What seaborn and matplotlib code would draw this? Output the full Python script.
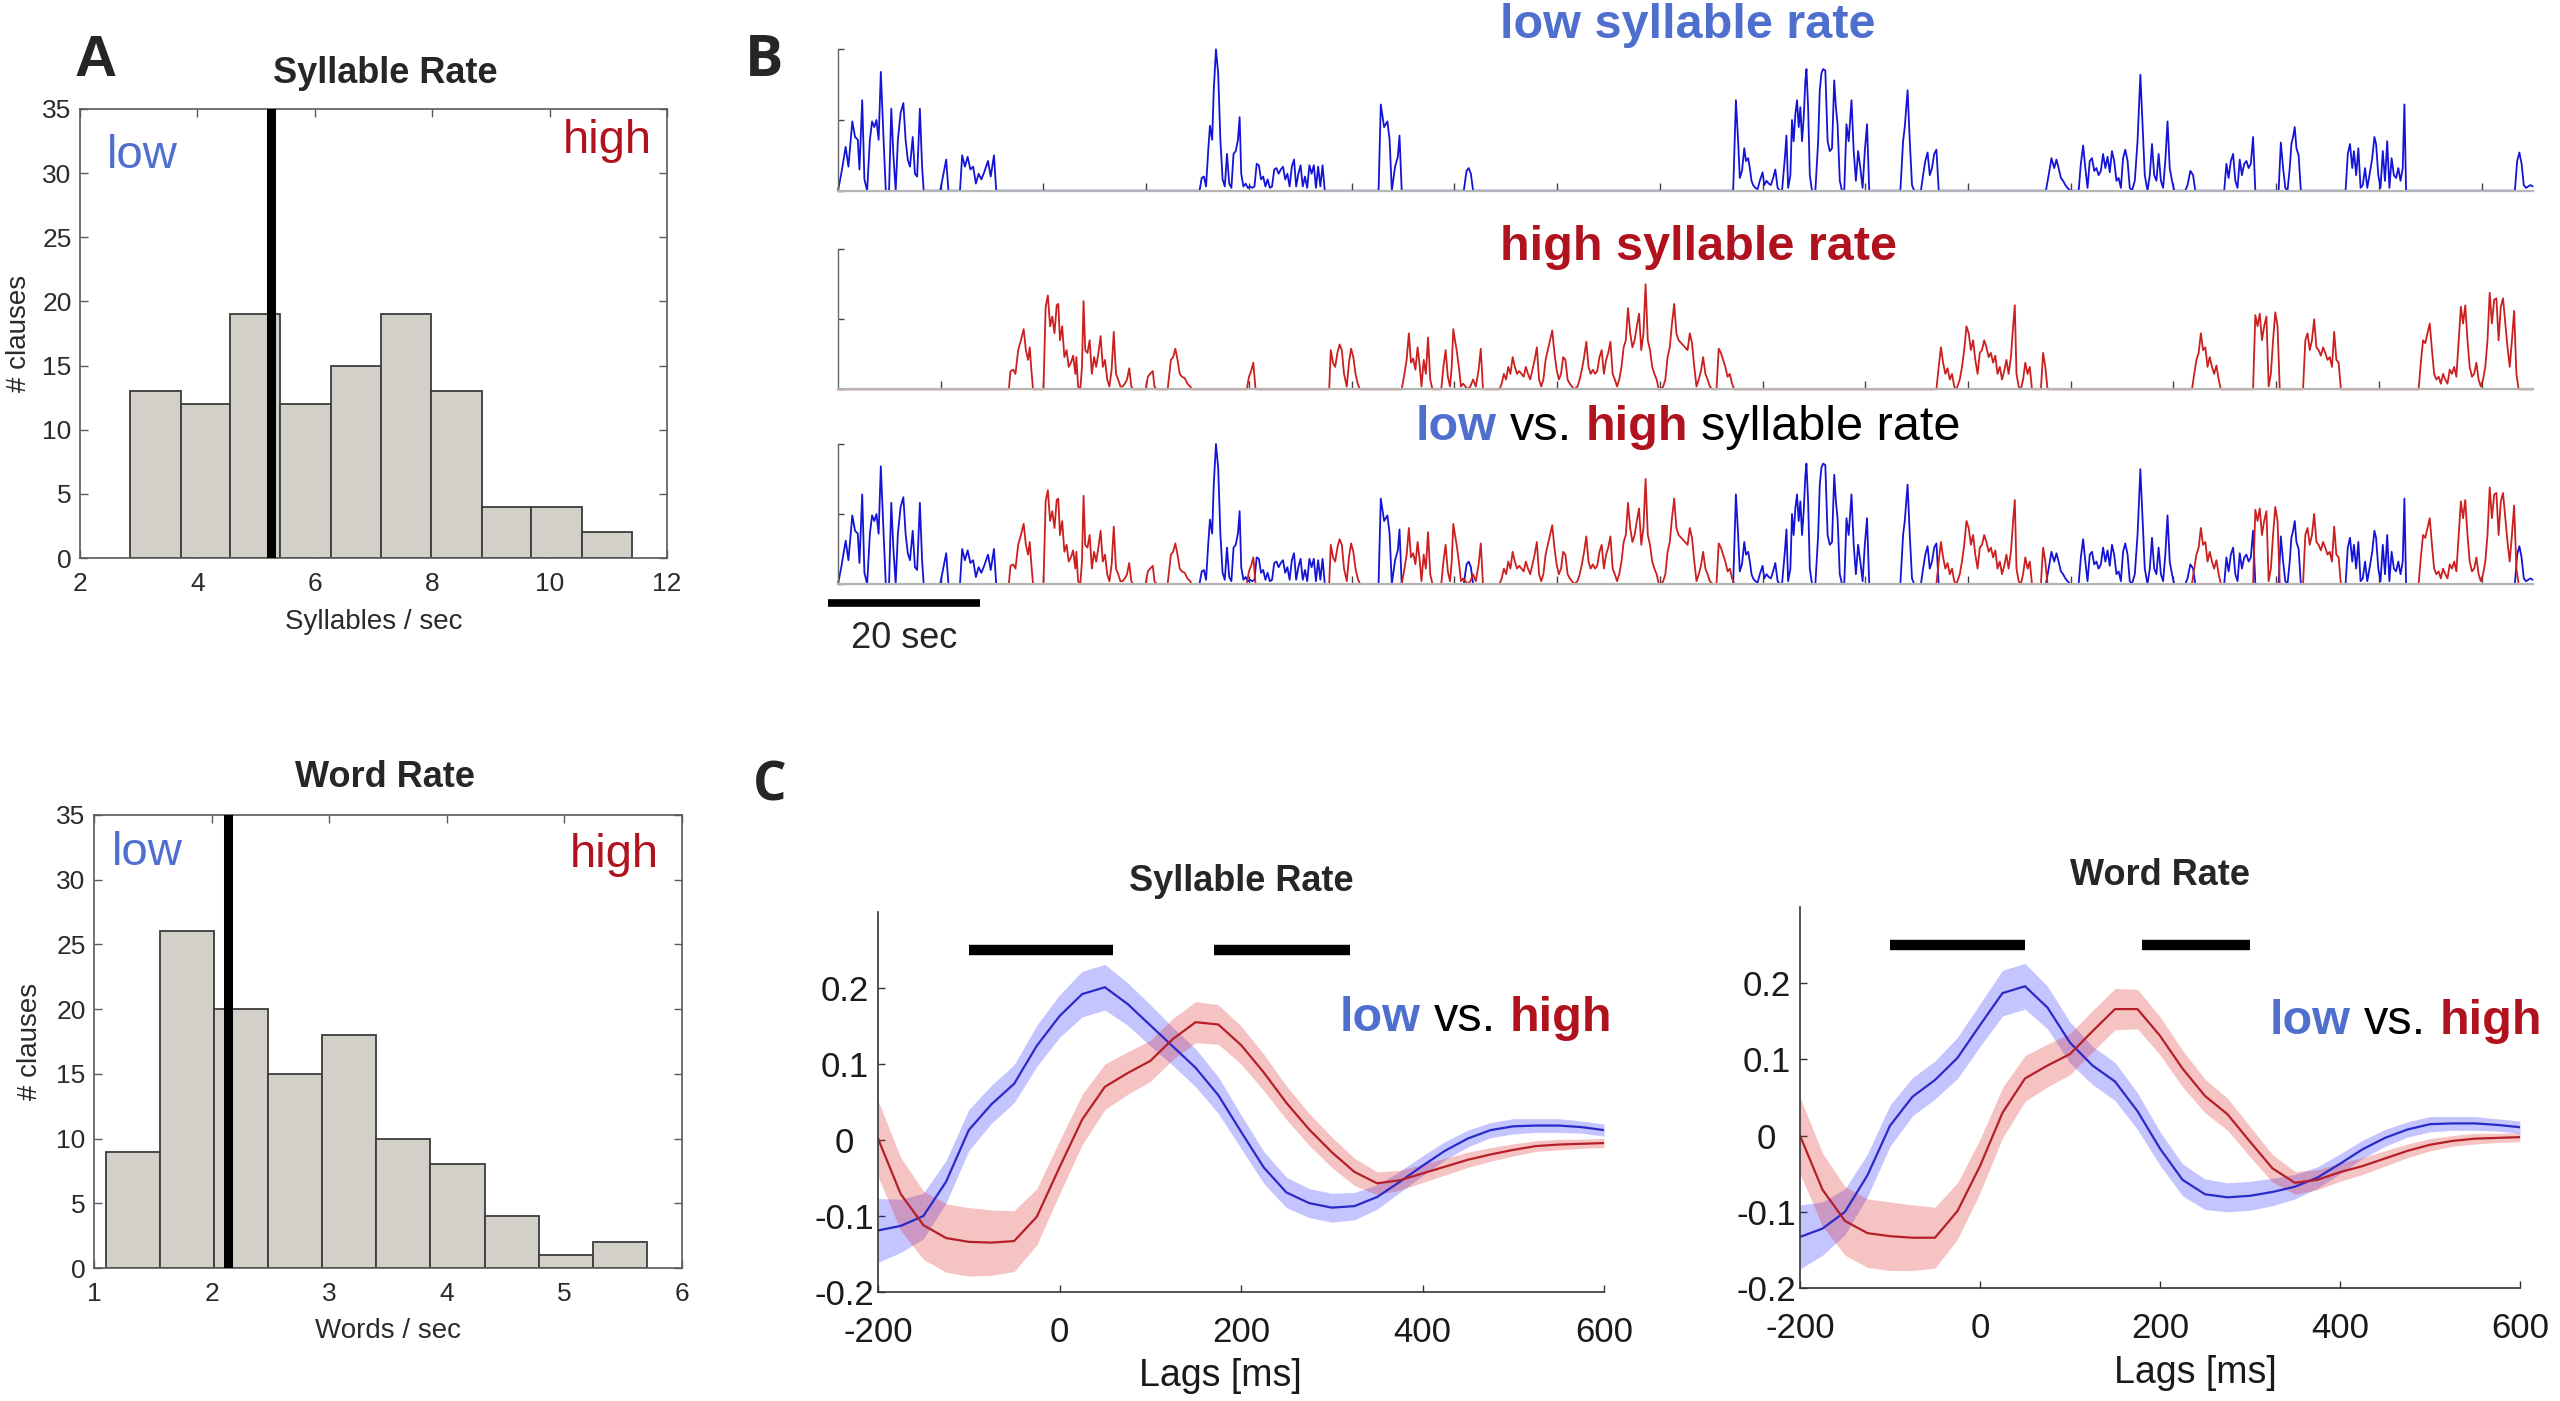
import numpy as np
import matplotlib
matplotlib.use("Agg")
import matplotlib.pyplot as plt
from matplotlib.transforms import IdentityTransform, blended_transform_factory
import seaborn as sns

# ======================= DATA =======================
# ---- Panel A : histograms of clause rates ----
syl_bin_edges = [2.85, 3.72, 4.56, 5.41, 6.27, 7.12, 7.98, 8.84, 9.69, 10.55, 11.41]
syl_counts = [13, 12, 19, 12, 15, 19, 13, 4, 4, 2]
syl_split = 5.25
word_bin_edges = [1.105, 1.562, 2.022, 2.482, 2.938, 3.399, 3.859, 4.323, 4.783, 5.239, 5.700]
word_counts = [9, 26, 20, 15, 18, 10, 8, 4, 1, 2]
word_split = 2.14

# ---- Panel B : speech envelopes (time in s, normalised amplitude) ----
low_time = [
    0, 0.43, 1.01, 1.37, 1.88, 2.24, 2.60, 2.82, 3.18, 3.47, 3.83, 4.19, 4.48, 4.77, 5.05, 5.34, 5.63, 5.99,
    6.28, 6.71, 7.00, 7.29, 7.58, 7.87, 8.23, 8.59, 8.88, 9.17, 9.46, 9.82, 10.11, 10.40, 10.76, 11.05, 11.26,
    13.43, 13.72, 14.22, 14.51,
    16.03, 16.32, 16.68, 17.04, 17.40, 17.76, 18.12, 18.48, 18.84, 19.21, 19.71, 20.07, 20.50, 20.79,
    47.51, 47.80, 48.09, 48.37, 48.66, 48.88, 49.17, 49.38, 49.67, 49.96, 50.25, 50.54, 50.83, 51.12, 51.41,
    51.70, 51.98, 52.27, 52.56, 52.78, 52.99, 53.28, 53.57, 53.86, 54.15, 54.44, 54.73, 55.02, 55.31, 55.59,
    55.88, 56.17, 56.46, 56.75, 57.04, 57.33, 57.62, 57.90, 58.19, 58.48, 58.77, 59.06, 59.35, 59.64, 59.93,
    60.21, 60.50, 60.79, 61.08, 61.37, 61.66, 61.95, 62.24, 62.53, 62.81, 63.10, 63.39, 63.68, 63.97,
    71.04, 71.33, 71.77, 72.20, 72.49, 72.78, 73.21, 73.57, 73.79, 74.08,
    82.24, 82.60, 82.89, 83.17, 83.46,
    117.64, 118.00, 118.29, 118.51, 118.80, 119.10, 119.32, 119.61, 119.83, 120.05, 120.26, 120.56, 120.85,
    121.14, 121.51, 121.72, 122.02, 122.31, 122.60, 122.89, 123.18, 123.48, 123.77, 124.06, 124.43, 124.64,
    124.86, 125.16, 125.37, 125.59, 125.81, 126.03, 126.25, 126.47, 126.69, 126.91, 127.13, 127.27, 127.49,
    127.71, 128.00, 128.44, 128.81, 129.02, 129.24, 129.46, 129.75, 130.05, 130.34, 130.63, 130.92, 131.14,
    131.36, 131.65, 131.94, 132.24, 132.53, 132.82, 133.19, 133.48, 133.77, 134.06, 134.35, 134.65, 134.94,
    135.23, 135.52,
    139.61, 139.97, 140.19, 140.56, 140.85, 141.14, 141.43, 142.31, 142.60, 142.89, 143.19, 143.48, 143.77,
    144.06, 144.35, 144.65,
    158.74, 159.10, 159.47, 159.83, 160.12, 160.41, 160.71, 161.00, 161.29, 161.58, 161.95,
    163.04, 163.33, 163.63, 163.92, 164.21, 164.50, 164.79, 165.09, 165.38, 165.67, 165.96, 166.25, 166.55,
    166.84, 167.13, 167.42, 167.71, 168.01, 168.30, 168.59, 168.88, 169.17, 169.47, 169.76, 170.05, 170.42,
    170.78, 171.15, 171.44, 171.73, 172.09, 172.39, 172.68, 172.97, 173.26, 173.55, 173.85, 174.14, 174.43,
    174.72, 175.01, 175.31, 175.60,
    177.06, 177.35, 177.72, 178.08, 178.37,
    182.17, 182.46, 182.75, 183.04, 183.34, 183.63, 183.92, 184.21, 184.50, 184.80, 185.09, 185.38, 185.67,
    185.96, 186.26,
    189.32, 189.61, 189.91, 190.20, 190.49, 190.78, 191.00, 191.22, 191.44, 191.66, 191.95, 192.24,
    198.12, 198.41, 198.70, 199.00, 199.22, 199.51, 199.80, 200.09, 200.38, 200.68, 200.97, 201.26, 201.62,
    201.91, 202.13, 202.42, 202.71, 203.01, 203.30, 203.59, 203.88, 204.17, 204.47, 204.76, 205.05, 205.34,
    205.63, 205.85, 206.07,
    220.37, 220.67, 220.96, 221.25, 221.54, 221.83, 222.13, 222.42, 222.71,
]
low_env = [
    0, 0.12, 0.31, 0.17, 0.49, 0.38, 0.36, 0.15, 0.64, 0.08, 0.0, 0.36, 0.49, 0.45, 0.50, 0.36, 0.84, 0.36,
    0.0, 0.0, 0.58, 0.24, 0.0, 0.36, 0.55, 0.62, 0.36, 0.22, 0.17, 0.38, 0.12, 0.10, 0.58, 0.17, 0,
    0, 0.08, 0.22, 0,
    0, 0.25, 0.17, 0.24, 0.15, 0.17, 0.05, 0.12, 0.08, 0.13, 0.21, 0.10, 0.25, 0,
    0, 0.09, 0.10, 0.03, 0.29, 0.46, 0.36, 0.71, 1.0, 0.83, 0.36, 0.08, 0.03, 0.26, 0.05,
    0.02, 0.26, 0.28, 0.36, 0.52, 0.12, 0.03, 0.05, 0.02, 0.03, 0.02, 0.03, 0.19, 0.18, 0.08,
    0.10, 0.03, 0.08, 0.02, 0.03, 0.15, 0.16, 0.12, 0.15, 0.17, 0.08, 0.12, 0.03, 0.17, 0.22,
    0.03, 0.12, 0.18, 0.03, 0.10, 0.02, 0.18, 0.12, 0.18, 0.02, 0.17, 0.03, 0.18, 0,
    0, 0.61, 0.45, 0.49, 0.36, 0, 0.17, 0.24, 0.39, 0,
    0, 0.14, 0.16, 0.12, 0,
    0, 0.64, 0.35, 0.09, 0.14, 0.30, 0.21, 0.23, 0.16, 0.07, 0.04, 0.02, 0.01,
    0.07, 0.13, 0.04, 0.07, 0.05, 0.04, 0.09, 0.15, 0.02, 0, 0, 0.23, 0.39,
    0.02, 0.11, 0.50, 0.35, 0.54, 0.64, 0.45, 0.59, 0.35, 0.52, 0.78, 0.86, 0.59,
    0.11, 0, 0, 0.35, 0.71, 0.83, 0.86, 0.85, 0.35, 0.28, 0.30, 0.78, 0.59,
    0.47, 0.07, 0, 0, 0.47, 0.35, 0.64, 0.28, 0.07, 0.28, 0.16, 0.02, 0.28,
    0.47, 0,
    0, 0.35, 0.45, 0.71, 0.35, 0.04, 0, 0, 0.11, 0.21, 0.27, 0.11, 0.16,
    0.26, 0.29, 0,
    0, 0.11, 0.23, 0.16, 0.22, 0.16, 0.09, 0.07, 0.04, 0.02, 0,
    0, 0.19, 0.32, 0.16, 0.02, 0.21, 0.23, 0.14, 0.16, 0.11, 0.14, 0.26, 0.16,
    0.24, 0.13, 0.28, 0.21, 0.07, 0.09, 0.02, 0.23, 0.29, 0.21, 0.02, 0, 0.07,
    0.35, 0.82, 0.47, 0.11, 0, 0.11, 0.33, 0.11, 0.07, 0.26, 0.07, 0.02, 0.21,
    0.49, 0.16, 0.07, 0,
    0, 0.04, 0.14, 0.11, 0,
    0, 0.19, 0.09, 0.21, 0.26, 0.07, 0.02, 0.22, 0.11, 0.19, 0.21, 0.16, 0.19,
    0.38, 0,
    0, 0.34, 0.16, 0.02, 0, 0.16, 0.33, 0.38, 0.45, 0.30, 0.25, 0,
    0, 0.26, 0.33, 0.16, 0.28, 0.11, 0.30, 0.02, 0.04, 0.16, 0.02, 0.11, 0.23,
    0.38, 0.33, 0.11, 0.02, 0.28, 0.07, 0.35, 0.02, 0.23, 0.11, 0.09, 0.16, 0.07,
    0.16, 0.61, 0,
    0, 0.21, 0.27, 0.19, 0.04, 0.02, 0.03, 0.04, 0.03,
]

high_time = [
    0,
    22.45, 22.67, 23.03, 23.32, 23.68, 24.04, 24.40, 24.69, 24.98, 25.20, 25.41, 25.63,
    27.00, 27.29, 27.58, 27.87, 28.16, 28.45, 28.74, 28.95, 29.17, 29.46, 29.75, 30.04, 30.32, 30.61, 30.90,
    31.19, 31.33, 31.55, 31.84, 32.06, 32.27, 32.49, 32.78, 33.07, 33.36, 33.65, 33.93, 34.22, 34.51, 34.80,
    35.09, 35.38, 35.67, 35.96, 36.24, 36.53, 36.82, 37.11, 37.40, 37.69, 37.98, 38.27, 38.55, 38.77,
    40.43, 40.72, 41.01, 41.37, 41.59, 41.88, 43.32, 43.54, 43.75, 44.04, 44.33, 44.62, 44.91, 45.20, 45.56,
    45.92, 46.28, 46.50,
    53.72, 54.01, 54.29, 54.58, 54.87,
    64.55, 64.76, 65.05, 65.34, 65.63, 65.92, 66.21, 66.50, 66.86, 67.15, 67.43, 67.72, 68.01, 68.30, 68.59,
    74.08, 74.44, 74.73, 75.02, 75.30, 75.59, 75.88, 76.17, 76.46, 76.68, 76.97, 77.25, 77.54, 77.83, 78.12,
    79.28, 79.56, 79.85, 80.14, 80.43, 80.65, 80.86, 81.08, 81.30, 81.59, 81.87, 82.16, 82.45, 82.74, 83.10,
    83.46, 83.82, 84.19, 84.47, 84.76,
    86.93, 87.22, 87.51, 87.80, 88.08, 88.37, 88.66, 88.95, 89.24, 89.53, 89.82, 90.11, 90.39, 90.68, 90.97,
    91.26, 91.55, 91.84, 92.13, 92.42, 92.70, 92.99, 93.28, 93.57, 93.86, 94.15, 94.44, 94.73, 95.02, 95.30,
    95.59, 95.88, 96.17, 96.46, 96.75, 97.18, 97.47, 97.76, 98.05, 98.34, 98.63, 98.91, 99.20, 99.49, 99.78,
    100.07, 100.36, 100.65, 100.94, 101.22, 101.51, 101.80, 102.09, 102.38, 102.67, 102.96, 103.25, 103.53,
    103.82, 104.11, 104.40, 104.69, 104.98, 105.27, 105.56, 105.85, 106.13, 106.42, 106.71, 107.00, 107.29,
    107.58, 107.87, 108.16, 108.44, 108.73, 109.02, 109.31, 109.60, 109.89, 110.18, 110.47,
    111.65, 111.94, 112.23, 112.53, 112.82, 113.11, 113.40, 113.69, 113.99, 114.28, 114.57, 114.94,
    115.45, 115.74, 116.03, 116.32, 116.61, 116.91, 117.20, 117.49, 117.78,
    144.35, 144.65, 144.94, 145.23, 145.52, 145.81, 146.11, 146.40, 146.69, 146.98, 147.42, 147.71, 148.00,
    148.30, 148.59, 148.88, 149.17, 149.46, 149.76, 150.05, 150.34, 150.63, 150.92, 151.22, 151.51, 151.80,
    152.09, 152.38, 152.68, 152.97, 153.26, 153.55, 153.84, 154.14, 154.43, 154.65, 154.87, 155.16, 155.45,
    155.74, 156.03, 156.33, 156.62, 156.91, 158.08, 158.37, 158.66, 158.95,
    177.93, 178.23, 178.52, 178.81, 179.10, 179.39, 179.69, 179.98, 180.27, 180.56, 180.85, 181.15, 181.44,
    181.73,
    185.96, 186.26, 186.55, 186.84, 187.13, 187.42, 187.72, 188.01, 188.30, 188.59, 188.88, 189.18, 189.47,
    192.53, 192.83, 193.12, 193.41, 193.70, 193.99, 194.29, 194.58, 194.87, 195.16, 195.45, 195.75, 196.04,
    196.33, 196.62, 196.91, 197.21, 197.50,
    207.72, 208.01, 208.30, 208.59, 208.89, 209.18, 209.47, 209.76, 210.05, 210.35, 210.64, 210.93, 211.22,
    211.51, 211.81, 212.10, 212.39, 212.68, 212.97, 213.27, 213.56, 213.85, 214.14, 214.43, 214.73, 215.02,
    215.31, 215.60, 215.89, 216.19, 216.48, 216.77, 217.06, 217.35, 217.65, 217.94, 218.23, 218.52, 218.81,
    219.11, 219.40, 219.69, 219.98, 220.27, 220.57, 220.86,
    222.75,
]
high_env = [
    0,
    0, 0.13, 0.14, 0.11, 0.28, 0.35, 0.43, 0.28, 0.21, 0.30, 0.14, 0,
    0, 0.59, 0.67, 0.45, 0.52, 0.40, 0.60, 0.61, 0.35, 0.45, 0.23, 0.28, 0.16, 0.19, 0.24,
    0.11, 0.23, 0.02, 0, 0.16, 0.63, 0.28, 0.26, 0.35, 0.11, 0.23, 0.16, 0.26, 0.38, 0.16,
    0.21, 0.07, 0.02, 0.14, 0.41, 0.11, 0.07, 0.02, 0.02, 0.04, 0.07, 0.15, 0.02, 0,
    0, 0.09, 0.11, 0.13, 0.02, 0, 0, 0.11, 0.21, 0.23, 0.29, 0.21, 0.11, 0.09, 0.08,
    0.04, 0.02, 0,
    0, 0.09, 0.13, 0.19, 0,
    0, 0.28, 0.19, 0.16, 0.26, 0.32, 0.28, 0.11, 0.02, 0.19, 0.29, 0.23, 0.11, 0.04, 0,
    0, 0.11, 0.21, 0.40, 0.19, 0.22, 0.14, 0.30, 0.16, 0.02, 0.21, 0.11, 0.37, 0.07, 0,
    0, 0.16, 0.28, 0.09, 0.02, 0.16, 0.43, 0.35, 0.28, 0.16, 0.02, 0.04, 0.02, 0, 0.02,
    0.07, 0.02, 0.14, 0.29, 0,
    0, 0.04, 0.11, 0.07, 0.16, 0.11, 0.23, 0.16, 0.11, 0.13, 0.11, 0.09, 0.16, 0.11, 0.07,
    0.14, 0.21, 0.30, 0.07, 0.02, 0.07, 0.21, 0.28, 0.35, 0.42, 0.26, 0.14, 0.07, 0.11, 0.23,
    0.21, 0.07, 0.04, 0.02, 0, 0.02, 0.07, 0.14, 0.23, 0.34, 0.16, 0.11, 0.14, 0.11, 0.13,
    0.23, 0.28, 0.11, 0.21, 0.26, 0.34, 0.11, 0.07, 0.02, 0.07, 0.16, 0.30, 0.35,
    0.58, 0.40, 0.30, 0.35, 0.45, 0.54, 0.28, 0.40, 0.75, 0.35, 0.28, 0.16, 0.11,
    0.07, 0, 0, 0.02, 0.07, 0.23, 0.30, 0.47, 0.61, 0.40, 0.35,
    0.28, 0.40, 0.33, 0.16, 0.02, 0.07, 0.13, 0.23, 0.11, 0.07, 0.02, 0,
    0, 0.29, 0.26, 0.21, 0.16, 0.09, 0.11, 0.04, 0,
    0, 0.16, 0.30, 0.19, 0.11, 0.15, 0.07, 0.11, 0.02, 0, 0.07, 0.16, 0.28,
    0.45, 0.40, 0.28, 0.35, 0.21, 0.11, 0.26, 0.28, 0.35, 0.30, 0.23, 0.26, 0.19,
    0.24, 0.11, 0.16, 0.07, 0.13, 0.21, 0.11, 0.23, 0.45, 0.60, 0.11, 0.02, 0,
    0.07, 0.19, 0.11, 0.16, 0, 0, 0.26, 0.16, 0,
    0, 0.11, 0.21, 0.26, 0.40, 0.28, 0.30, 0.16, 0.23, 0.16, 0.11, 0.17, 0.07,
    0,
    0, 0.53, 0.45, 0.54, 0.35, 0.45, 0.52, 0.02, 0.11, 0.35, 0.55, 0.45, 0,
    0, 0.35, 0.40, 0.28, 0.35, 0.50, 0.30, 0.28, 0.24, 0.30, 0.26, 0.21, 0.23,
    0.16, 0.41, 0.21, 0.19, 0,
    0, 0.19, 0.35, 0.33, 0.40, 0.47, 0.28, 0.11, 0.07, 0.09, 0.04, 0.11, 0.07,
    0.04, 0.14, 0.11, 0.16, 0.09, 0.33, 0.59, 0.47, 0.60, 0.35, 0.16, 0.09, 0.11,
    0.19, 0.07, 0.02, 0.07, 0.16, 0.35, 0.69, 0.47, 0.64, 0.65, 0.35, 0.59, 0.65,
    0.47, 0.30, 0.16, 0.35, 0.56, 0.11, 0,
    0,
]
trace_duration = 222.75
scale_bar_sec = 20

# ---- Panel C : TRF-like curves (lag in ms) ----
lags_ms = [-200, -175, -150, -125, -100, -75, -50, -25, 0, 25, 50, 75, 100, 125, 150, 175, 200,
           225, 250, 275, 300, 325, 350, 375, 400, 425, 450, 475, 500, 525, 550, 575, 600]
syl_low_mean = [-0.119, -0.113, -0.100, -0.055, 0.013, 0.047, 0.074, 0.124, 0.163, 0.192, 0.201, 0.179,
                0.151, 0.123, 0.095, 0.059, 0.011, -0.036, -0.069, -0.083, -0.089, -0.087, -0.075, -0.055,
                -0.034, -0.014, 0.002, 0.013, 0.018, 0.019, 0.019, 0.017, 0.013]
syl_high_mean = [0.002, -0.071, -0.112, -0.129, -0.134, -0.135, -0.133, -0.101, -0.036, 0.027, 0.070, 0.088,
                 0.104, 0.133, 0.155, 0.152, 0.125, 0.089, 0.049, 0.014, -0.016, -0.042, -0.057, -0.053,
                 -0.044, -0.035, -0.026, -0.019, -0.013, -0.008, -0.006, -0.005, -0.004]
word_low_mean = [-0.133, -0.122, -0.100, -0.052, 0.013, 0.051, 0.073, 0.102, 0.145, 0.187, 0.196, 0.168,
                 0.122, 0.092, 0.071, 0.032, -0.017, -0.058, -0.077, -0.081, -0.079, -0.074, -0.067, -0.055,
                 -0.037, -0.018, -0.003, 0.008, 0.015, 0.016, 0.016, 0.014, 0.011]
word_high_mean = [0.000, -0.071, -0.112, -0.128, -0.132, -0.134, -0.134, -0.099, -0.040, 0.030, 0.075, 0.092,
                  0.107, 0.137, 0.166, 0.166, 0.131, 0.088, 0.052, 0.028, -0.008, -0.043, -0.062, -0.058,
                  -0.048, -0.040, -0.030, -0.020, -0.012, -0.007, -0.004, -0.003, -0.002]
low_sem = [0.042, 0.035, 0.030, 0.028, 0.027, 0.025, 0.025, 0.027, 0.028, 0.030, 0.030, 0.028, 0.027,
           0.025, 0.025, 0.024, 0.022, 0.021, 0.020, 0.019, 0.019, 0.018, 0.016, 0.014, 0.013, 0.012,
           0.011, 0.010, 0.010, 0.009, 0.009, 0.008, 0.008]
high_sem = [0.050, 0.048, 0.045, 0.045, 0.045, 0.043, 0.040, 0.037, 0.035, 0.033, 0.030, 0.028, 0.027,
            0.027, 0.027, 0.026, 0.025, 0.024, 0.022, 0.021, 0.020, 0.018, 0.015, 0.013, 0.012, 0.011,
            0.010, 0.009, 0.008, 0.007, 0.007, 0.006, 0.006]
syl_sig_windows = [(-100, 59), (170, 320)]
word_sig_windows = [(-100, 50), (180, 300)]

assert len(low_time) == len(low_env), (len(low_time), len(low_env))
assert len(high_time) == len(high_env), (len(high_time), len(high_env))

# ======================= STYLE =======================
sns.set_style("white")
plt.rcParams["font.family"] = ["Liberation Sans", "DejaVu Sans"]

BLUE_TXT = "#4f6fcf"
RED_TXT = "#b0121e"
TRACE_BLUE = "#1414d8"
TRACE_RED = "#cc1f1f"

W, H, DPI = 2560, 1401, 100
fig = plt.figure(figsize=(W / DPI, H / DPI), dpi=DPI)
fig.patch.set_facecolor("white")


def axes_px(left, top, right, bottom):
    return fig.add_axes([left / W, 1 - bottom / H, (right - left) / W, (bottom - top) / H])


def rich_text(x_px, y_base_px, parts, size, ha="left"):
    r = fig.canvas.get_renderer()
    arts, widths = [], []
    for s, col, wt in parts:
        t = fig.text(0, 0, s, color=col, fontsize=size, fontweight=wt,
                     transform=IdentityTransform(), ha="left", va="baseline")
        widths.append(t.get_window_extent(r).width)
        arts.append(t)
    gap = size * DPI / 72 * 0.27
    total = sum(widths) + gap * (len(parts) - 1)
    x = x_px - total / 2 if ha == "center" else x_px
    for t, w in zip(arts, widths):
        t.set_position((x, H - y_base_px))
        x += w + gap


# ======================= PANEL A =======================
def hist_panel(ax, edges, counts, split, xlim, xticks, title, title_x, title_pad, xlabel,
               low_xy, high_xy, ylab_x, xlab_y):
    centers = [(a + b) / 2 for a, b in zip(edges[:-1], edges[1:])]
    sns.histplot(x=centers, weights=counts, bins=edges, ax=ax, color="#d3d0ca",
                 edgecolor="#3c3c3c", linewidth=1.3, alpha=1.0)
    ax.axvline(split, color="black", lw=6.5, zorder=5)
    ax.set_xlim(*xlim)
    ax.set_ylim(0, 35)
    ax.set_xticks(xticks)
    ax.set_yticks(range(0, 36, 5))
    for s in ax.spines.values():
        s.set_visible(True)
        s.set_color("#5a5a5a")
        s.set_linewidth(1.2)
    ax.tick_params(direction="in", bottom=True, left=True, top=True, right=True, length=6, width=1,
                   color="#5a5a5a", labelsize=19, labelcolor="#2a2a2a")
    ax.tick_params(axis="x", pad=10)
    ax.tick_params(axis="y", pad=6)
    ax.set_title(title, fontsize=26, fontweight="bold", pad=title_pad, x=title_x)
    ax.set_xlabel(xlabel, fontsize=20, color="#2a2a2a")
    ax.set_ylabel("# clauses", fontsize=20, color="#2a2a2a")
    ax.xaxis.label.set_va("center")
    ax.yaxis.label.set_va("center")
    ax.xaxis.set_label_coords(0.5, xlab_y)
    ax.yaxis.set_label_coords(ylab_x, 0.5)
    ax.text(low_xy[0], low_xy[1], "low", color=BLUE_TXT, fontsize=34, ha="left", va="center")
    ax.text(high_xy[0], high_xy[1], "high", color=RED_TXT, fontsize=34, ha="right", va="center")


axA1 = axes_px(80, 109, 667, 558)
hist_panel(axA1, syl_bin_edges, syl_counts, syl_split, (2, 12), [2, 4, 6, 8, 10, 12],
           "Syllable Rate", 0.52, 19, "Syllables / sec", (2.45, 31.3), (11.74, 32.5),
           -(80 - 19) / 587, -(622 - 558) / 449)

axA2 = axes_px(94, 815, 682, 1268)
hist_panel(axA2, word_bin_edges, word_counts, word_split, (1, 6), [1, 2, 3, 4, 5, 6],
           "Word Rate", 0.495, 20, "Words / sec", (1.153, 32.1), (5.80, 31.9),
           -(94 - 30) / 588, -(1331 - 1268) / 453)

fig.text(96 / W, 1 - 61 / H, "A", fontsize=42, fontweight="bold", ha="center", va="center")

# ======================= PANEL B =======================
trace_boxes = [(49.3, 190.7), (249.3, 389.3), (444, 584)]
trace_axes = []
for top, bottom in trace_boxes:
    ax = axes_px(838, top, 2533, bottom)
    ax.set_xlim(0, trace_duration)
    ax.set_ylim(0, 1)
    ax.set_xticks(np.arange(13.5, trace_duration, 13.5))
    ax.set_yticks([0, 0.5, 1])
    ax.tick_params(direction="in", bottom=True, left=True, labelbottom=False, labelleft=False,
                   color="#444444", width=1.0)
    ax.tick_params(axis="x", length=6)
    ax.tick_params(axis="y", length=4)
    ax.spines["top"].set_visible(False)
    ax.spines["right"].set_visible(False)
    ax.spines["left"].set_color("#666666")
    ax.spines["left"].set_linewidth(1.0)
    ax.spines["bottom"].set_color("#b5b5b5")
    ax.spines["bottom"].set_linewidth(1.6)
    ax.patch.set_alpha(0)
    trace_axes.append(ax)

axB1, axB2, axB3 = trace_axes
sns.lineplot(x=low_time, y=low_env, ax=axB1, color=TRACE_BLUE, lw=1.3, estimator=None, sort=False,
             clip_on=False)
sns.lineplot(x=high_time, y=high_env, ax=axB2, color=TRACE_RED, lw=1.3, estimator=None, sort=False,
             clip_on=False)
sns.lineplot(x=low_time, y=low_env, ax=axB3, color=TRACE_BLUE, lw=1.3, estimator=None, sort=False,
             clip_on=False)
sns.lineplot(x=high_time, y=high_env, ax=axB3, color=TRACE_RED, lw=1.3, estimator=None, sort=False,
             clip_on=False)
for ax in trace_axes:
    ax.set_xlabel("")
    ax.set_ylabel("")

blend = blended_transform_factory(axB3.transData, axB3.transAxes)
axB3.plot([-1.3, -1.3 + scale_bar_sec], [-0.133, -0.133], transform=blend, color="black", lw=5.5,
          solid_capstyle="butt", clip_on=False)
axB3.text(-1.3 + scale_bar_sec / 2, -0.39, f"{scale_bar_sec} sec", transform=blend, fontsize=26,
          ha="center", va="center")

fig.text(1688 / W, 1 - 26 / H, "low syllable rate", color=BLUE_TXT, fontsize=35, fontweight="bold",
         ha="center", va="center")
fig.text(1698 / W, 1 - 247 / H, "high syllable rate", color=RED_TXT, fontsize=35, fontweight="bold",
         ha="center", va="center")
rich_text(1688, 440, [("low", BLUE_TXT, "bold"), ("vs.", "black", "normal"),
                      ("high", RED_TXT, "bold"), ("syllable rate", "black", "normal")], 35, ha="center")
fig.text(764 / W, 1 - 61 / H, "B", fontsize=41, fontweight="bold", ha="center", va="center",
         family=["Open Sans", "DejaVu Sans"])

# ======================= PANEL C =======================
def trf_panel(ax, low_mean, high_mean, sig, title, title_pad, xlab_x):
    lo = np.array(low_mean); hi = np.array(high_mean)
    ls = np.array(low_sem); hs = np.array(high_sem)
    ax.fill_between(lags_ms, lo - ls, lo + ls, color="#2b2bff", alpha=0.28, lw=0)
    ax.fill_between(lags_ms, hi - hs, hi + hs, color="#e02828", alpha=0.28, lw=0)
    sns.lineplot(x=lags_ms, y=low_mean, ax=ax, color="#2a2ac8", lw=1.6)
    sns.lineplot(x=lags_ms, y=high_mean, ax=ax, color="#b51f28", lw=1.6)
    for a, b in sig:
        ax.plot([a, b], [0.25, 0.25], color="black", lw=7.5, solid_capstyle="butt")
    ax.set_xlim(-200, 600)
    ax.set_ylim(-0.2, 0.3)
    ax.set_xticks([-200, 0, 200, 400, 600])
    ax.set_yticks([-0.2, -0.1, 0, 0.1, 0.2])
    ax.set_yticklabels(["-0.2", "-0.1", "0", "0.1", "0.2"])
    ax.set_xticklabels(["-200", "0", "200", "400", "600"])
    ax.spines["top"].set_visible(False)
    ax.spines["right"].set_visible(False)
    for s in ("left", "bottom"):
        ax.spines[s].set_color("#333333")
        ax.spines[s].set_linewidth(1.2)
    ax.tick_params(direction="in", bottom=True, left=True, length=5, width=1.0, color="#333333",
                   labelsize=25, labelcolor="#1a1a1a")
    ax.tick_params(axis="x", pad=17)
    ax.tick_params(axis="y", pad=24)
    for lab in ax.get_yticklabels():
        lab.set_ha("center")
    ax.set_title(title, fontsize=26, fontweight="bold", pad=title_pad)
    ax.set_xlabel("Lags [ms]", fontsize=27, color="#1a1a1a")
    ax.set_ylabel("")
    ax.xaxis.label.set_va("center")
    ax.xaxis.set_label_coords(xlab_x, -0.222)
    ax.patch.set_alpha(0)


axC1 = axes_px(878, 912, 1604, 1292)
trf_panel(axC1, syl_low_mean, syl_high_mean, syl_sig_windows, "Syllable Rate", 15, 0.472)
axC2 = axes_px(1800, 907, 2520, 1288)
trf_panel(axC2, word_low_mean, word_high_mean, word_sig_windows, "Word Rate", 16, 0.549)

for x0, yb in ((1340, 1031), (2270, 1034)):
    rich_text(x0, yb, [("low", BLUE_TXT, "bold"), ("vs.", "black", "normal"),
                       ("high", RED_TXT, "bold")], 35)

fig.text(770 / W, 1 - 787 / H, "C", fontsize=38, fontweight="bold", ha="center", va="center",
         family=["Open Sans", "DejaVu Sans"])

fig.savefig("out.png", dpi=DPI, facecolor="white")
